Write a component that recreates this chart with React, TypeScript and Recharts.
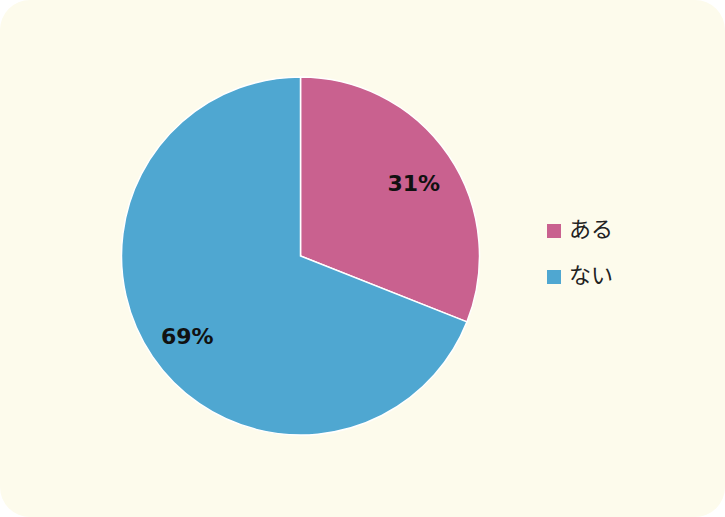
import React from 'react';
import { PieChart, Pie, Cell, Legend } from 'recharts';

const categories = ['ある', 'ない'];
const values = [31, 69];
const colors = ['#C9618F', '#4FA7D1'];

const data = categories.map((name, i) => ({ name, value: values[i] }));

const RADIAN = Math.PI / 180;

const renderLabel = (props: any) => {
  const { cx, cy, midAngle, outerRadius, value } = props;
  const r = outerRadius * 0.765;
  const x = cx + r * Math.cos(-midAngle * RADIAN);
  const y = cy + r * Math.sin(-midAngle * RADIAN) + 4;
  return (
    <text
      x={x}
      y={y}
      fill="#111"
      textAnchor="middle"
      dominantBaseline="central"
      fontFamily="'DejaVu Sans', Verdana, sans-serif"
      fontWeight="bold"
      fontSize={22}
    >
      {`${value}%`}
    </text>
  );
};

const renderLegend = () => (
  <div style={{ fontFamily: "'Noto Sans CJK JP', sans-serif", fontSize: 22, color: '#222' }}>
    {categories.map((c, i) => (
      <div key={c} style={{ display: 'flex', alignItems: 'center', height: 46 }}>
        <span
          style={{
            display: 'inline-block',
            width: 14,
            height: 14,
            background: colors[i],
            marginRight: 8,
          }}
        />
        <span style={{ lineHeight: 1, position: 'relative', top: -4 }}>{c}</span>
      </div>
    ))}
  </div>
);

export default function App() {
  return (
    <div
      style={{
        position: 'fixed',
        left: 0,
        top: 0,
        width: 725,
        height: 517,
        background: '#fff',
      }}
    >
      <div
        style={{
          width: 725,
          height: 517,
          background: '#FDFBEC',
          borderRadius: 30,
          overflow: 'hidden',
        }}
      >
        <PieChart width={725} height={517} margin={{ top: 0, right: 0, bottom: 0, left: 0 }}>
          <Pie
            data={data}
            dataKey="value"
            nameKey="name"
            cx={300.5}
            cy={256}
            outerRadius={179}
            startAngle={90}
            endAngle={-270}
            stroke="#ffffff"
            strokeWidth={1.5}
            label={renderLabel}
            labelLine={false}
            isAnimationActive={false}
          >
            {data.map((d, i) => (
              <Cell key={d.name} fill={colors[i]} />
            ))}
          </Pie>
          <Legend
            content={renderLegend}
            layout="vertical"
            wrapperStyle={{ position: 'absolute', left: 547, top: 208, width: 120 }}
          />
        </PieChart>
      </div>
    </div>
  );
}
